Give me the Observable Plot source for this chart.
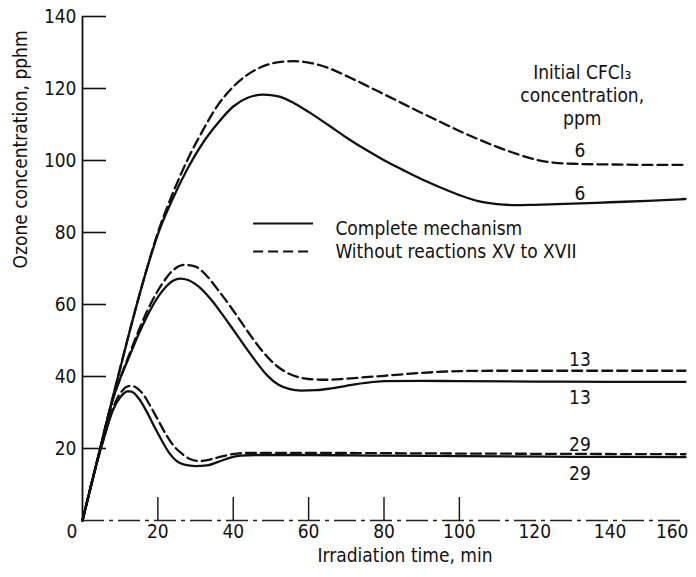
<!DOCTYPE html>
<html><head><meta charset="utf-8">
<script src="https://cdn.jsdelivr.net/npm/d3@7"></script>
<script src="https://cdn.jsdelivr.net/npm/@observablehq/plot@0.6"></script>
<style>
body{margin:0;background:#fff;}
#chart{width:696px;height:577px;}
</style></head><body><div id="chart"></div>
<script>
// ---- data ----
const tComplete6 = [0,4,8,12,16,20,24,28,32,36,40,44,48,52,56,60,65,70,75,80,85,90,95,100,105,110,115,120,130,140,150,160];
const complete6  = [0,17,34,50.5,66,79.5,89.5,98,105,110.5,115,117.5,118.3,117.8,116,113.5,110,106.4,103.1,100.1,97.4,94.8,92.5,90.4,88.7,87.9,87.6,87.7,88,88.4,88.8,89.3];
const tWithout6  = [0,4,8,12,16,20,24,28,32,36,40,44,48,52,56,60,65,70,75,80,85,90,95,100,105,110,115,120,125,130,140,150,160];
const without6   = [0,17,34,50.5,66,80,91,100.5,108.5,115.5,120.5,124,126.2,127.3,127.6,127.2,125.8,123.5,121,118.4,115.8,113.2,110.7,108.2,105.9,103.8,101.9,100.3,99.4,99.1,98.9,98.8,98.8];

const tComplete13 = [0,4,8,10,12,15,18,21,24,26,28,31,34,37,40,43,46,49,52,55,58,62,66,70,75,80,90,100,120,140,160];
const complete13  = [0,17,33.5,39.5,44.5,52,58.5,63.5,66.6,67.2,66.8,64.8,61.5,57.4,53,48.5,44.2,40.3,37.7,36.5,36.1,36.2,36.7,37.4,38.2,38.7,38.8,38.7,38.6,38.5,38.5];
const tWithout13  = [0,4,8,10,12,15,18,21,24,27,30,33,36,39,42,45,48,51,54,57,60,65,70,75,80,90,100,110,130,160];
const without13   = [0,17,33.5,39.5,45,53,60,65.5,69.5,71,70.5,67.9,64,59.8,55.3,50.8,46.7,43.4,41.2,39.9,39.3,39.1,39.4,39.8,40.2,41,41.5,41.6,41.6,41.6];

const tComplete29 = [0,4,6,8,10,12,13,15,17,19,21,23,25,27,30,33,36,39,42,46,50,60,80,100,130,160];
const complete29  = [0,16.8,24,30.5,34.2,35.9,35.8,33.8,30.3,26.2,22.3,18.8,16.5,15.5,15.1,15.3,16.3,17.4,18,18.2,18.2,18.2,18,17.9,17.7,17.6];
const tWithout29  = [0,4,6,8,10,12.7,14,16,18,20,22,24,26,28.5,31,34,37,41,46,50,60,80,100,130,160];
const without29   = [0,16.8,24,31,35.3,37.4,37.1,35.2,31.8,28,24.2,21,18.9,17.1,16.5,17,17.8,18.6,18.8,18.8,18.8,18.7,18.6,18.5,18.4];

const yTickValues = [20,40,60,80,100,120,140];
const xTickMarks  = [20,40,60,80,100];
const xTickLabels = [20,40,60,80,100,120,140];
const xLastLabel  = [160];
const originLabel = ["0"];

const curveLabels   = ["6","6","13","13","29","29"];
const curveLabelT   = [132,132,132,132,132,132];
const curveLabelV   = [102.8,90.7,44.7,34.1,21.1,13.0];

const legendLabels  = ["Complete mechanism","Without reactions XV to XVII"];
const headerText    = "Initial CFCl\u2083\nconcentration,\nppm";
const xLabel = "Irradiation time, min";
const yLabel = "Ozone concentration, pphm";

// ---- layout (not data) ----
const W = 696, H = 577, mL = 82, mR = 11, mT = 16, mB = 57;
const plotW = W - mL - mR, plotH = H - mT - mB;
const FONT = "'Liberation Sans Narrow','DejaVu Sans Condensed','Liberation Sans',sans-serif";
const FS = 19;
const legendPos = {x1: 45.4, x2: 61.3, tx: 67.1, vSolid: 82.5, vDashed: 74.7, tSolid: 81.1, tDashed: 74.7};
const headerPos = {t: 132.6, v: 127.2};
const CURVE = "monotone-x";

function rows(ts, vs, id) { return ts.map((t, i) => ({t, v: vs[i], id})); }
const solidRows = [
  ...rows(tComplete6, complete6, "c6"),
  ...rows(tComplete13, complete13, "c13"),
  ...rows(tComplete29, complete29, "c29")
];
const dashedRows = [
  ...rows(tWithout6, without6, "w6"),
  ...rows(tWithout13, without13, "w13"),
  ...rows(tWithout29, without29, "w29")
];
const labelRows = curveLabels.map((s, i) => ({s, t: curveLabelT[i], v: curveLabelV[i]}));

const chart = Plot.plot({
  width: W, height: H,
  marginLeft: mL, marginRight: mR, marginTop: mT, marginBottom: mB,
  style: {fontFamily: FONT, fontSize: FS + "px", background: "#fff", color: "#111", overflow: "visible"},
  x: {domain: [0, 160], axis: null},
  y: {domain: [0, 140], axis: null},
  marks: [
    // axes
    Plot.ruleY([0], {stroke: "#222", strokeWidth: 1.3, strokeDasharray: "22,5,4,5"}),
    Plot.ruleX([0], {stroke: "#111", strokeWidth: 1.8}),
    Plot.tickY(yTickValues, {y: d => d, insetRight: plotW - 24, stroke: "#111", strokeWidth: 1.6}),
    Plot.tickX(xTickMarks, {x: d => d, insetTop: plotH - 23, stroke: "#111", strokeWidth: 1.4}),
    Plot.text(yTickValues, {y: d => d, frameAnchor: "left", textAnchor: "end", dx: -6, text: d => String(d), fontSize: FS, fill: "#111"}),
    Plot.text(xTickLabels, {x: d => d, frameAnchor: "bottom", dy: 17, text: d => String(d), fontSize: FS, fill: "#111"}),
    Plot.text(xLastLabel, {x: d => d, frameAnchor: "bottom", dy: 17, dx: 3, textAnchor: "end", text: d => String(d), fontSize: FS, fill: "#111"}),
    Plot.text(originLabel, {frameAnchor: "bottom-left", dy: 17, dx: -16, text: d => d, fontSize: FS, fill: "#111"}),
    Plot.text([xLabel], {frameAnchor: "bottom", dy: 41, dx: 21, text: d => d, fontSize: FS, fill: "#111"}),
    Plot.text([yLabel], {frameAnchor: "left", rotate: -90, dx: -62, text: d => d, fontSize: FS, fill: "#111"}),
    // curves
    Plot.line(solidRows, {x: "t", y: "v", z: "id", curve: CURVE, stroke: "#111", strokeWidth: 2.3}),
    Plot.line(dashedRows, {x: "t", y: "v", z: "id", curve: CURVE, stroke: "#111", strokeWidth: 2.3, strokeDasharray: "10,5"}),
    // curve labels
    Plot.text(labelRows, {x: "t", y: "v", text: "s", fontSize: FS, fill: "#111"}),
    Plot.text([headerText], {x: () => headerPos.t, y: () => headerPos.v, text: d => d, lineAnchor: "top", lineHeight: 1.22, fontSize: FS, fill: "#111"}),
    // legend
    Plot.ruleY([legendPos.vSolid], {x1: legendPos.x1, x2: legendPos.x2, stroke: "#111", strokeWidth: 2}),
    Plot.ruleY([legendPos.vDashed], {x1: legendPos.x1, x2: legendPos.x2, stroke: "#111", strokeWidth: 2, strokeDasharray: "10,5"}),
    Plot.text([legendLabels[0]], {x: () => legendPos.tx, y: () => legendPos.tSolid, text: d => d, textAnchor: "start", fontSize: FS, fill: "#111"}),
    Plot.text([legendLabels[1]], {x: () => legendPos.tx, y: () => legendPos.tDashed, text: d => d, textAnchor: "start", fontSize: FS, fill: "#111"})
  ]
});
document.getElementById("chart").appendChild(chart);
</script></body></html>
